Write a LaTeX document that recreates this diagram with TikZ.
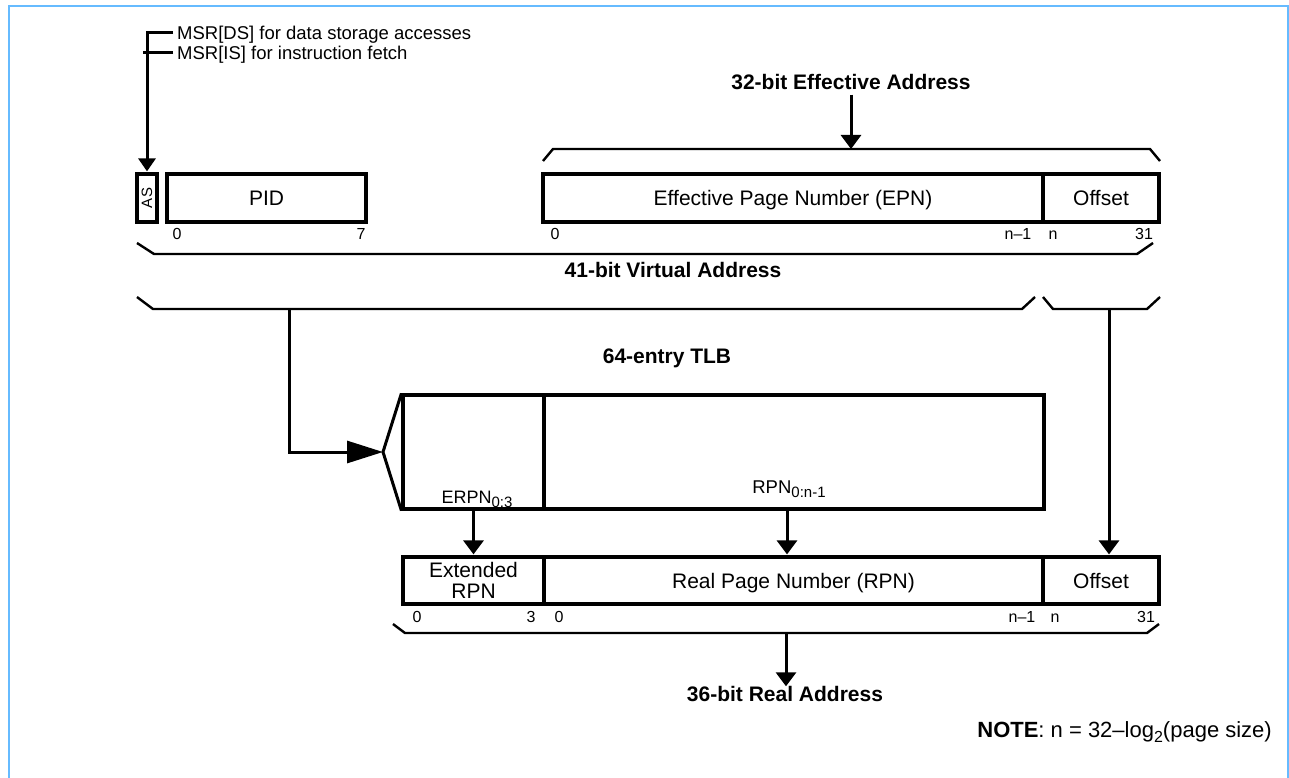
\documentclass[tikz,border=0pt]{standalone}
\usepackage{fontspec}
\setmainfont{Liberation Sans}
\usetikzlibrary{arrows.meta}
\definecolor{framecol}{RGB}{102,187,255}
\newcommand\fbig{\fontsize{21}{24}\selectfont}
\newcommand\fmsr{\fontsize{18.5}{20}\selectfont}
\newcommand\fidx{\fontsize{16}{18}\selectfont}
\newcommand\fsub{\fontsize{15}{15}\selectfont}
\begin{document}
\begin{tikzpicture}[x=1pt,y=-1pt,
  field/.style={draw, line width=3.2pt, minimum height=48pt, inner sep=0pt, font=\fbig, text height=15pt, text depth=0pt},
  plainbox/.style={draw, line width=3.2pt, inner sep=0pt},
  lbl/.style={inner sep=0pt, text height=15pt, text depth=0pt, font=\fbig},
  head/.style={inner sep=0pt, text height=15pt, text depth=0pt, font=\fbig\bfseries},
  idx/.style={inner sep=0pt, text height=11.5pt, text depth=0pt, font=\fidx},
  msrtext/.style={inner sep=0pt, anchor=west, text height=13.3pt, text depth=0pt, font=\fmsr},
  brace/.style={line width=2.4pt, line join=miter},
  wire/.style={line width=3pt},
  conn/.style={line width=3pt, -{Triangle[length=14pt,width=20pt]}},
  bigconn/.style={line width=3pt, -{Triangle[length=36pt,width=22pt]}},
  msrconn/.style={line width=3pt, -{Triangle[length=13pt,width=17pt]}}
]
\useasboundingbox (0,0) rectangle (1289,778);
% frame
\draw[framecol, line width=2.2pt] (9,800) -- (9,6) -- (1288,6) -- (1288,800);

% ---- top row
\node[plainbox, minimum width=20pt, minimum height=48pt] (as) at (147,198) {\rotatebox{90}{\fontsize{15}{15}\selectfont AS}};
\node[field, minimum width=199pt] (pid) at (266.5,198) {PID};
\node[field, minimum width=500pt] (epn) at (793,198) {Effective Page Number (EPN)};
\node[field, minimum width=116pt] (off1) at (1101,198) {Offset};

\node[idx] (i1) at (177,234) {0};
\node[idx] (i2) at (361,234) {7};
\node[idx] (i3) at (555,234) {0};
\node[idx] (i4) at (1018,234) {n–1};
\node[idx] (i5) at (1053,234) {n};
\node[idx] (i6) at (1144,234) {31};

% MSR
\node[msrtext] (ds) at (177,33) {MSR[DS] for data storage accesses};
\node[msrtext] (is) at (177,53) {MSR[IS] for instruction fetch};
\draw[msrconn] ([xshift=-4pt]ds.west) -| ([yshift=1pt]as.north);
\draw[wire] ([xshift=-4pt]is.west) -- ([xshift=-4pt]is.west -| as.north);

% Effective address
\node[head] (ea) at (851,82) {32-bit Effective Address};
\coordinate (eatip) at (851,149);
\draw[brace] (543,161) -- (553,149) -- (1150,149) -- (1160,161);
\draw[conn] ([yshift=-5pt]ea.south) -- (eatip);

% Virtual address
\draw[brace] (137,243) -- (154,254) -- (1137,254) -- (1153,243);
\node[head] (va) at (673,270) {41-bit Virtual Address};

% lower braces
\draw[brace] (137,297) -- (153,309) -- (1022,309) -- (1035,297);
\draw[brace] (1043,297) -- (1053,309) -- (1147,309) -- (1160,297);
\coordinate (vasrc) at (289,309);
\coordinate (offsrc) at (1109,309);

% TLB
\node[head] (tlbt) at (667,356) {64-entry TLB};
\node[plainbox, minimum width=141pt, minimum height=114pt] (tlbE) at (473.5,452) {};
\node[plainbox, minimum width=500pt, minimum height=114pt] (tlbR) at (794,452) {};
\coordinate (apex) at (383,452);
\draw[line width=3pt, line join=miter] (tlbE.north west) -- (apex) -- (tlbE.south west);
\draw[bigconn] (vasrc) |- (apex);
\node[inner sep=0pt, anchor=base, font=\fontsize{18}{18}\selectfont] (erpnl) at (477,503) {ERPN\raisebox{-4.5pt}{\fsub 0:3}};
\node[inner sep=0pt, anchor=base, font=\fontsize{18.5}{18}\selectfont] (rpnl) at (789,493) {RPN\raisebox{-4.5pt}{\fsub 0:n-1}};

% bottom row
\node[plainbox, minimum width=141pt, minimum height=47pt, align=center, font=\fontsize{21}{21}\selectfont] (ext) at (473.5,580.5) {Extended\\RPN};
\node[field, minimum width=499pt, minimum height=47pt] (rpn) at (793.5,580.5) {Real Page Number (RPN)};
\node[field, minimum width=116pt, minimum height=47pt] (off2) at (1101,580.5) {Offset};

\coordinate (rpnsrc) at (787,509);
\draw[conn] (tlbE.south) -- ([yshift=1pt]ext.north);
\draw[conn] (rpnsrc) -- ([yshift=1pt]rpnsrc |- rpn.north);
\draw[conn] (offsrc) -- ([yshift=1pt]offsrc |- off2.north);

\node[idx] (j1) at (417,617) {0};
\node[idx] (j2) at (531,617) {3};
\node[idx] (j3) at (559,617) {0};
\node[idx] (j4) at (1022,617) {n–1};
\node[idx] (j5) at (1055,617) {n};
\node[idx] (j6) at (1146,617) {31};

% Real address
\draw[brace] (393,624) -- (405,633) -- (1147,633) -- (1159,624);
\coordinate (rasrc) at (786,633);
\node[head] (ra) at (785,694) {36-bit Real Address};
\draw[conn] (rasrc) -- (rasrc |- ra.north);

% note
\node[inner sep=0pt, anchor=east, text height=15.8pt, text depth=0pt, font=\fontsize{22}{24}\selectfont] (note) at (1272,730) {\textbf{NOTE}: n = 32–log\raisebox{-5pt}{\fontsize{16}{16}\selectfont 2}(page size)};
\end{tikzpicture}
\end{document}
